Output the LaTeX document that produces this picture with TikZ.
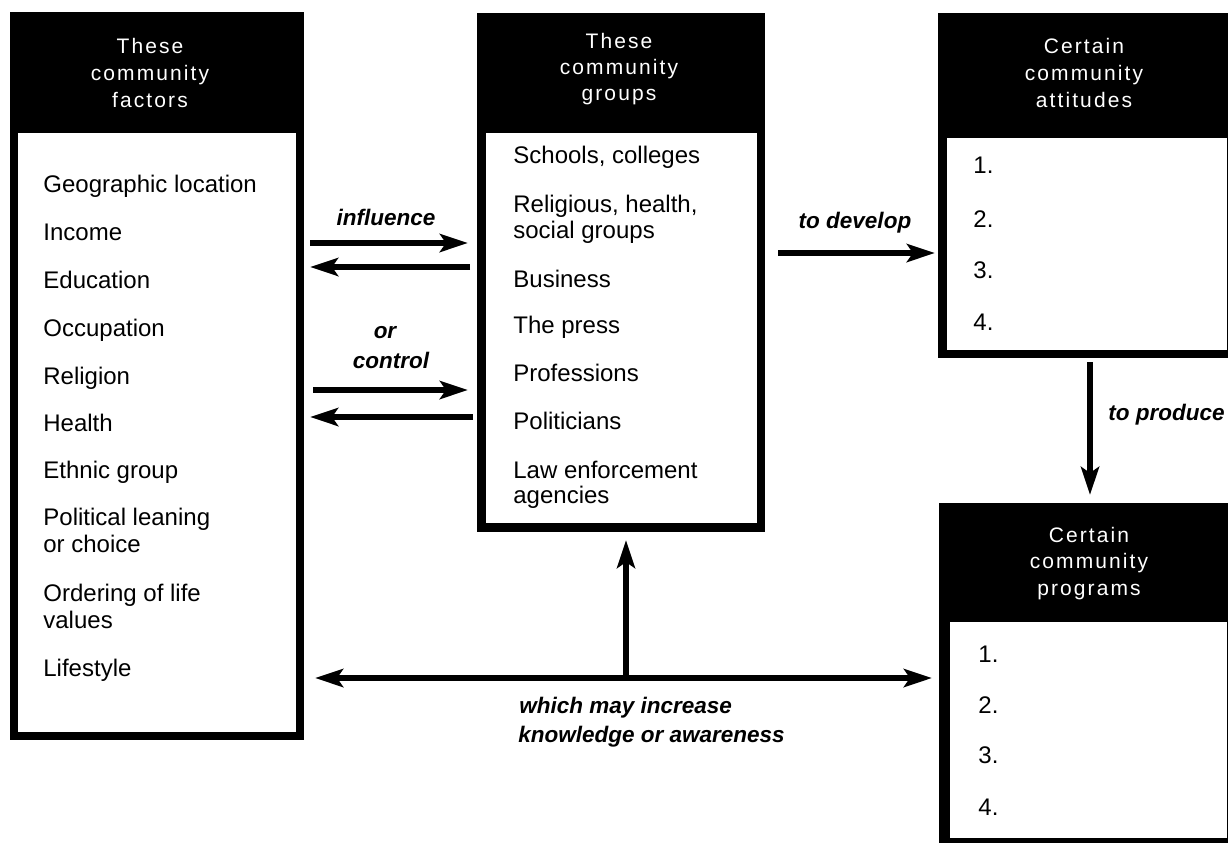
\documentclass[tikz,border=0pt]{standalone}
\usepackage{fontspec}
\setmainfont{Liberation Sans}
\newfontfamily\headfont[LetterSpace=10]{Liberation Sans}
\usetikzlibrary{arrows.meta,calc}
\tikzset{
  outerbox/.style={rectangle, fill=black, draw=none, inner sep=0pt, outer sep=0pt},
  innerbox/.style={rectangle, fill=white, draw=none, inner sep=0pt, outer sep=0pt},
  head/.style={text=white, font=\headfont\fontsize{10.5pt}{13pt}\selectfont, inner sep=0pt, anchor=base},
  item/.style={font=\fontsize{12pt}{14pt}\selectfont, inner sep=0pt, anchor=base west},
  lab/.style={font=\fontsize{11.25pt}{13pt}\selectfont\bfseries\itshape, inner sep=0pt, anchor=base},
  arr/.style={line width=2.7pt},
  >={Stealth[length=14pt,width=9pt,inset=3pt]}
}
\begin{document}
\begin{tikzpicture}[x=0.5pt, y=-0.5pt]
\clip (0,0) rectangle (1228,842);
\fill[white] (0,0) rectangle (1228,842);

% Box 1: community factors
\node[outerbox, minimum width=147pt, minimum height=364pt] (f) at (157,376) {};
\node[innerbox, minimum width=139pt, minimum height=299.5pt] (fw) at (157,432.5) {};
\foreach \t/\yy [count=\i] in {These/53, community/80, factors/107}
  \node[head] (hf\i) at (150,\yy) {\t};
\foreach \yy/\t [count=\i] in {192/Geographic location, 240/Income, 288/Education, 336/Occupation, 384/Religion, 431/Health, 478/Ethnic group, 525/Political leaning, 552/or choice, 601/Ordering of life, 628/values, 676/Lifestyle}
  \node[item] (fi\i) at (43,\yy) {\t};

% Box 2: community groups
\node[outerbox, minimum width=144pt, minimum height=259.5pt] (g) at (621,272.5) {};
\node[innerbox, minimum width=135.5pt, minimum height=195pt] (gw) at (621.5,328) {};
\foreach \t/\yy [count=\i] in {These/48, community/74, groups/100}
  \node[head] (hg\i) at (619,\yy) {\t};
\foreach \yy/\t [count=\i] in {163/{Schools, colleges}, 212/{Religious, health,}, 238/social groups, 287/Business, 333/The press, 381/Professions, 429/Politicians, 478/Law enforcement, 503/agencies}
  \node[item] (gi\i) at (513,\yy) {\t};

% Box 3: community attitudes
\node[outerbox, minimum width=149pt, minimum height=172.5pt] (h) at (1087,185.5) {};
\node[innerbox, minimum width=140pt, minimum height=106pt] (hw) at (1087,244) {};
\foreach \t/\yy [count=\i] in {Certain/53, community/80, attitudes/107}
  \node[head] (hh\i) at (1084,\yy) {\t};
\foreach \yy/\t [count=\i] in {173/1., 227/2., 278/3., 330/4.}
  \node[item] (hi\i) at (973,\yy) {\t};

% Box 4: community programs
\node[outerbox, minimum width=148.5pt, minimum height=173.5pt] (p) at (1087.5,676.5) {};
\node[innerbox, minimum width=138.5pt, minimum height=108pt] (pw) at (1088.5,730) {};
\foreach \t/\yy [count=\i] in {Certain/542, community/568, programs/595}
  \node[head] (hp\i) at (1089,\yy) {\t};
\foreach \yy/\t [count=\i] in {662/1., 713/2., 763/3., 815/4.}
  \node[item] (pi\i) at (978,\yy) {\t};

% Arrows between factors and groups
\draw[arr,->] ($(f.east |- 0,243)+(6,0)$) -- ($(g.west |- 0,243)+(-9,0)$);
\draw[arr,->] ($(g.west |- 0,267)+(-7,0)$) -- ($(f.east |- 0,267)+(6,0)$);
\draw[arr,->] ($(f.east |- 0,390)+(9,0)$) -- ($(g.west |- 0,390)+(-9,0)$);
\draw[arr,->] ($(g.west |- 0,417)+(-4,0)$) -- ($(f.east |- 0,417)+(6,0)$);
\node[lab] (l1) at (386,225) {influence};
\node[lab] (l2) at (385,338) {or};
\node[lab] (l3) at (391,368) {control};

% to develop
\draw[arr,->] ($(g.east |- 0,253)+(13,0)$) -- ($(h.west |- 0,253)+(-3,0)$);
\node[lab] (l4) at (855,228) {to develop};

% to produce
\draw[arr,->] ($(h.south -| 1090,0)+(0,4)$) -- ($(p.north -| 1090,0)+(0,-8)$);
\node[lab, anchor=base west] (l5) at (1108,420) {to produce};

% which may increase knowledge or awareness
\coordinate (jn) at (626,678);
\draw[arr,<->] ($(f.east |- jn)+(11,0)$) -- ($(p.west |- jn)+(-7,0)$);
\draw[arr,->] (jn) -- ($(g.south -| jn)+(0,8)$);
\node[lab, anchor=base west] (l6) at (519,713) {which may increase};
\node[lab, anchor=base west] (l7) at (518,742) {knowledge or awareness};
\end{tikzpicture}
\end{document}
